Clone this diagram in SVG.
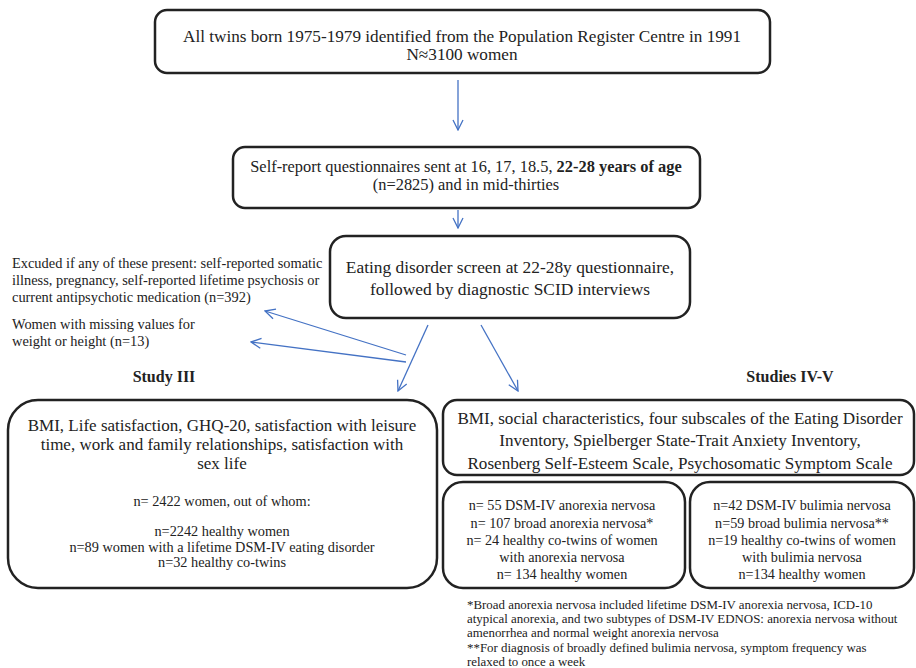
<svg xmlns="http://www.w3.org/2000/svg" width="916" height="668" viewBox="0 0 916 668">
<style>
.box{fill:#fff;stroke:#222;stroke-width:2.5}
.t{font-family:"Liberation Serif","DejaVu Serif",serif;fill:#222;text-anchor:middle}
.l{font-family:"Liberation Serif","DejaVu Serif",serif;fill:#222}
.c{stroke:#4472C4;stroke-width:1.3;fill:none}
</style>
<defs>
<marker id="ah" viewBox="0 0 12 12" refX="11" refY="6" markerWidth="12" markerHeight="12" markerUnits="userSpaceOnUse" orient="auto">
<path d="M1,1 L11,6 L1,11" fill="none" stroke="#4472C4" stroke-width="1.3"/>
</marker>
</defs>
<rect width="916" height="668" fill="#fff"/>
<g id="n1">
<rect class="box" x="155" y="10" width="615" height="63" rx="12"/>
<text class="t" x="462" y="42" font-size="17.2">All twins born 1975-1979 identified from the Population Register Centre in 1991</text>
<text class="t" x="462" y="60" font-size="17.2">N≈3100 women</text>
</g>
<g id="n2">
<rect class="box" x="233" y="147" width="467" height="61" rx="12"/>
<text class="t" x="466" y="172" font-size="16.4">Self-report questionnaires sent at 16, 17, 18.5, <tspan font-weight="bold">22-28 years of age</tspan></text>
<text class="t" x="466" y="190" font-size="16.4">(n=2825)  and in mid-thirties</text>
</g>
<g id="n3">
<rect class="box" x="330" y="236" width="360" height="82" rx="16"/>
<text class="t" x="510" y="273" font-size="17.4">Eating disorder screen at 22-28y questionnaire,</text>
<text class="t" x="510" y="295" font-size="17.4">followed by diagnostic SCID interviews</text>
</g>
<g id="excluded">
<text class="l" x="12" y="268" font-size="14.4">Excuded if any of these present: self-reported somatic</text>
<text class="l" x="12" y="285" font-size="14.4">illness, pregnancy, self-reported lifetime psychosis or</text>
<text class="l" x="12" y="302" font-size="14.4">current antipsychotic medication (n=392)</text>
</g>
<g id="missing">
<text class="l" x="12" y="329" font-size="14.4">Women with missing values for</text>
<text class="l" x="12" y="346" font-size="14.4">weight or height (n=13)</text>
</g>
<g id="labels">
<text class="t" x="164" y="382" font-size="16" font-weight="bold">Study III</text>
<text class="t" x="790" y="382" font-size="16" font-weight="bold">Studies IV-V</text>
</g>
<g id="n4">
<rect class="box" x="8" y="400" width="429" height="188" rx="30"/>
<text class="t" x="222" y="431" font-size="17">BMI, Life satisfaction, GHQ-20, satisfaction with leisure</text>
<text class="t" x="222" y="450" font-size="17">time, work and family relationships, satisfaction with</text>
<text class="t" x="222" y="469" font-size="17">sex life</text>
<text class="t" x="222" y="506" font-size="14.3">n= 2422 women, out of whom:</text>
<text class="t" x="222" y="536" font-size="14.3">n=2242 healthy women</text>
<text class="t" x="222" y="552" font-size="14.3">n=89 women with a lifetime DSM-IV eating disorder</text>
<text class="t" x="222" y="567" font-size="14.3">n=32 healthy co-twins</text>
</g>
<g id="n5">
<rect class="box" x="443" y="400" width="471" height="75" rx="14"/>
<text class="t" x="680" y="424" font-size="17.1">BMI, social characteristics, four subscales of the Eating Disorder</text>
<text class="t" x="680" y="446" font-size="17.1">Inventory, Spielberger State-Trait Anxiety Inventory,</text>
<text class="t" x="680" y="469" font-size="17.1">Rosenberg Self-Esteem Scale, Psychosomatic Symptom Scale</text>
</g>
<g id="n6">
<rect class="box" x="443" y="482" width="242" height="106" rx="20"/>
<text class="t" x="562" y="510" font-size="14.2">n= 55 DSM-IV anorexia nervosa</text>
<text class="t" x="562" y="528" font-size="14.2">n= 107 broad anorexia nervosa*</text>
<text class="t" x="562" y="545" font-size="14.2">n= 24 healthy co-twins of women</text>
<text class="t" x="562" y="562" font-size="14.2">with anorexia nervosa</text>
<text class="t" x="562" y="579" font-size="14.2">n= 134 healthy women</text>
</g>
<g id="n7">
<rect class="box" x="690" y="482" width="224" height="106" rx="20"/>
<text class="t" x="802" y="510" font-size="14.2">n=42 DSM-IV bulimia nervosa</text>
<text class="t" x="802" y="528" font-size="14.2">n=59 broad bulimia nervosa**</text>
<text class="t" x="802" y="545" font-size="14.2">n=19 healthy co-twins of women</text>
<text class="t" x="802" y="562" font-size="14.2">with bulimia nervosa</text>
<text class="t" x="802" y="579" font-size="14.2">n=134 healthy women</text>
</g>
<g id="footnote">
<text class="l" x="467" y="609" font-size="12.9">*Broad anorexia nervosa included lifetime DSM-IV anorexia nervosa, ICD-10</text>
<text class="l" x="467" y="623" font-size="12.9">atypical anorexia, and two subtypes of DSM-IV EDNOS: anorexia nervosa without</text>
<text class="l" x="467" y="637" font-size="12.9">amenorrhea and normal weight anorexia nervosa</text>
<text class="l" x="467" y="652" font-size="12.9">**For diagnosis of broadly defined bulimia nervosa, symptom frequency was</text>
<text class="l" x="467" y="666" font-size="12.9">relaxed to once a week</text>
</g>
<g id="connectors">
<line class="c" x1="458" y1="80" x2="458" y2="130" marker-end="url(#ah)"/>
<line class="c" x1="458" y1="210" x2="458" y2="228" marker-end="url(#ah)"/>
<line class="c" x1="406" y1="355" x2="265" y2="311" marker-end="url(#ah)"/>
<line class="c" x1="406" y1="362" x2="251" y2="342" marker-end="url(#ah)"/>
<line class="c" x1="428" y1="325" x2="398" y2="391" marker-end="url(#ah)"/>
<line class="c" x1="481" y1="325" x2="518" y2="391" marker-end="url(#ah)"/>
</g>
</svg>
